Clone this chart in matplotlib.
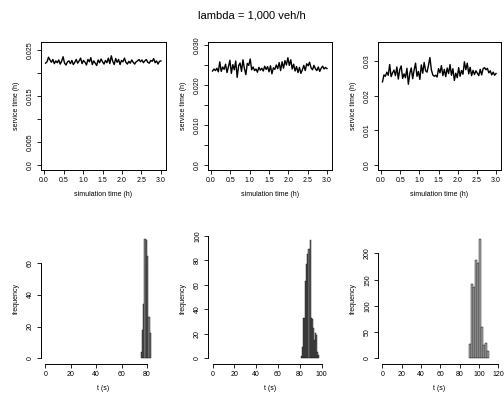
import numpy as np
import matplotlib
matplotlib.use("Agg")
from matplotlib import pyplot as plt

plt.rcParams['font.family'] = ['Liberation Sans', 'DejaVu Sans']

# simulation time grid (h)
sim_time = np.linspace(0.0375, 3.0, 80)

# service time (h), one series per panel
service_1 = [0.0221, 0.0224, 0.0234, 0.0228, 0.0223, 0.0229, 0.0220, 0.0226, 0.0222, 0.0228,
             0.0219, 0.0225, 0.0235, 0.0221, 0.0217, 0.0224, 0.0226, 0.0220, 0.0227, 0.0218,
             0.0223, 0.0229, 0.0221, 0.0226, 0.0232, 0.0220, 0.0227, 0.0223, 0.0217, 0.0229,
             0.0224, 0.0233, 0.0218, 0.0226, 0.0221, 0.0216, 0.0228, 0.0222, 0.0230, 0.0224,
             0.0219, 0.0227, 0.0222, 0.0232, 0.0220, 0.0237, 0.0225, 0.0218, 0.0231, 0.0223,
             0.0229, 0.0218, 0.0227, 0.0224, 0.0232, 0.0223, 0.0219, 0.0225, 0.0221, 0.0228,
             0.0223, 0.0219, 0.0224, 0.0226, 0.0229, 0.0224, 0.0228, 0.0222, 0.0226, 0.0229,
             0.0223, 0.0221, 0.0227, 0.0225, 0.0231, 0.0222, 0.0226, 0.0219, 0.0225, 0.0226]
service_2 = [0.0235, 0.0240, 0.0236, 0.0242, 0.0233, 0.0258, 0.0234, 0.0245, 0.0239, 0.0252,
             0.0231, 0.0246, 0.0262, 0.0229, 0.0251, 0.0238, 0.0260, 0.0219, 0.0248, 0.0255,
             0.0234, 0.0263, 0.0241, 0.0226, 0.0254, 0.0249, 0.0265, 0.0238, 0.0245, 0.0236,
             0.0240, 0.0232, 0.0244, 0.0237, 0.0242, 0.0235, 0.0247, 0.0239, 0.0246, 0.0233,
             0.0248, 0.0228, 0.0243, 0.0239, 0.0250, 0.0241, 0.0256, 0.0236, 0.0258, 0.0242,
             0.0261, 0.0250, 0.0268, 0.0249, 0.0263, 0.0240, 0.0252, 0.0235, 0.0246, 0.0231,
             0.0244, 0.0229, 0.0238, 0.0249, 0.0236, 0.0253, 0.0248, 0.0257, 0.0243, 0.0238,
             0.0249, 0.0241, 0.0236, 0.0245, 0.0234, 0.0242, 0.0247, 0.0240, 0.0244, 0.0241]
service_3 = [0.0240, 0.0260, 0.0256, 0.0268, 0.0259, 0.0290, 0.0255, 0.0266, 0.0274, 0.0258,
             0.0283, 0.0248, 0.0275, 0.0286, 0.0250, 0.0263, 0.0252, 0.0279, 0.0233, 0.0264,
             0.0280, 0.0249, 0.0274, 0.0294, 0.0256, 0.0270, 0.0247, 0.0289, 0.0265, 0.0296,
             0.0272, 0.0268, 0.0288, 0.0310, 0.0275, 0.0260, 0.0256, 0.0259, 0.0254, 0.0278,
             0.0266, 0.0287, 0.0258, 0.0276, 0.0255, 0.0280, 0.0264, 0.0290, 0.0259, 0.0278,
             0.0244, 0.0265, 0.0252, 0.0281, 0.0256, 0.0273, 0.0262, 0.0298, 0.0275, 0.0294,
             0.0263, 0.0282, 0.0258, 0.0273, 0.0261, 0.0272, 0.0265, 0.0258, 0.0276, 0.0260,
             0.0278, 0.0281, 0.0275, 0.0279, 0.0266, 0.0272, 0.0260, 0.0268, 0.0259, 0.0264]

# histograms of t (s): bin edges and counts
edges_1 = np.arange(75, 84, 1)
counts_1 = [4, 18, 34, 75, 74, 64, 26, 16]
edges_2 = np.arange(81, 99, 1)
counts_2 = [2, 9, 33, 33, 63, 77, 85, 89, 97, 33, 32, 25, 15, 21, 19, 5, 3]
edges_3 = np.arange(90, 111, 2)
counts_3 = [27, 142, 137, 188, 181, 228, 60, 25, 30, 15]

W, H = 504, 398
fig = plt.figure(figsize=(W / 100, H / 100), dpi=100)


def add_ax(x0, x1, y0, y1):
    return fig.add_axes([x0 / W, 1 - y1 / H, (x1 - x0) / W, (y1 - y0) / H])


def style(ax):
    ax.tick_params(labelsize=5, length=3, width=0.6, pad=2)
    for lab in ax.get_yticklabels():
        lab.set_rotation(90)
        lab.set_va('center')


# top row: service time series
top = [
    (41, 166, service_1, (-0.0011, 0.0267), [0, 0.005, 0.01, 0.015, 0.02, 0.025],
     ["0.0", "0.005", "", "0.015", "", "0.025"]),
    (208, 332, service_2, (-0.00125, 0.03075), [0, 0.005, 0.01, 0.015, 0.02, 0.025, 0.03],
     ["0.0", "", "0.010", "", "0.020", "", "0.030"]),
    (378, 501, service_3, (-0.00144, 0.0355), [0, 0.01, 0.02, 0.03],
     ["0.0", "0.01", "0.02", "0.03"]),
]
for x0, x1, series, ylim, yt, ytl in top:
    ax = add_ax(x0, x1, 42, 170)
    ax.plot(sim_time, series, color="black", linewidth=1.0)
    ax.set_xlim(-0.08, 3.13)
    ax.set_ylim(*ylim)
    ax.set_xticks([0, 0.5, 1, 1.5, 2, 2.5, 3])
    ax.set_xticklabels(["0.0", "0.5", "1.0", "1.5", "2.0", "2.5", "3.0"])
    ax.set_yticks(yt)
    ax.set_yticklabels(ytl)
    for s in ax.spines.values():
        s.set_linewidth(0.7)
    style(ax)
    ax.set_xlabel("simulation time (h)", fontsize=5, labelpad=5)
    ax.set_ylabel("service time (h)", fontsize=5, labelpad=5)

# bottom row: histograms
bottom = [
    (41, 166, edges_1, counts_1, '#8a8a8a', (-3.5, 95), (-3.5, 78),
     [0, 20, 40, 60, 80], [0, 20, 40, 60]),
    (208, 332, edges_2, counts_2, '#7a7a7a', (-4.2, 109.6), (-4.5, 101.5),
     [0, 20, 40, 60, 80, 100], [0, 20, 40, 60, 80, 100]),
    (378, 501, edges_3, counts_3, '#a8a8a8', (-4.6, 122.7), (-10.5, 237),
     [0, 20, 40, 60, 80, 100, 120], [0, 50, 100, 150, 200]),
]
for x0, x1, edges, counts, fc, xlim, ylim, xt, yt in bottom:
    ax = add_ax(x0, x1, 234, 364)
    ax.bar(edges[:-1], counts, width=np.diff(edges), align='edge',
           color=fc, edgecolor='black', linewidth=0.3)
    ax.set_xlim(*xlim)
    ax.set_ylim(*ylim)
    ax.set_xticks(xt)
    ax.set_yticks(yt)
    ax.spines['top'].set_visible(False)
    ax.spines['right'].set_visible(False)
    ax.spines['bottom'].set_bounds(xt[0], xt[-1])
    ax.spines['left'].set_bounds(yt[0], yt[-1])
    ax.spines['bottom'].set_linewidth(0.7)
    ax.spines['left'].set_linewidth(0.7)
    style(ax)
    ax.set_xlabel("t (s)", fontsize=5, labelpad=5)
    ax.set_ylabel("frequency", fontsize=5, labelpad=5)

fig.text(0.5, 1 - 16 / H, "lambda = 1,000 veh/h", ha='center', va='center', fontsize=8)

fig.savefig("out.png", dpi=100)
